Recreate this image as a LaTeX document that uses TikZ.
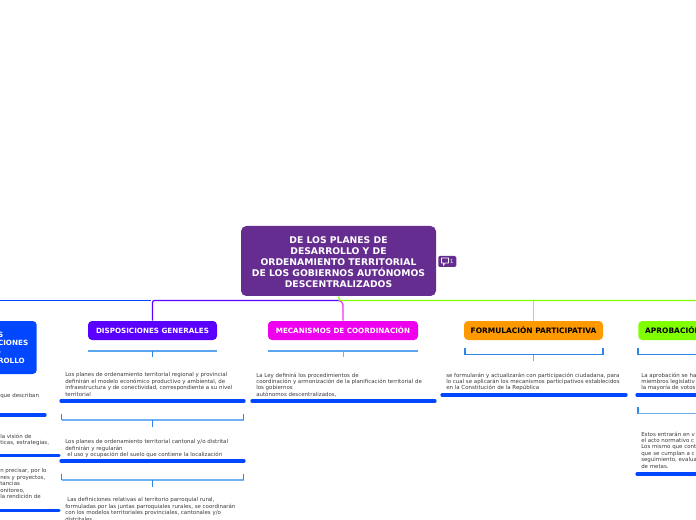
\documentclass[tikz,border=0pt]{standalone}
\usepackage{fontspec}
\setmainfont{DejaVu Sans}
\definecolor{rootc}{HTML}{662D91}
\definecolor{viol}{HTML}{5A00FF}
\definecolor{royal}{HTML}{0047FF}
\definecolor{mag}{HTML}{EE00EE}
\definecolor{orng}{HTML}{FF9900}
\definecolor{lime}{HTML}{80FF00}
\definecolor{brk}{HTML}{2C86E6}
\definecolor{brkl}{HTML}{6FB1F2}
\definecolor{txt}{HTML}{3A3A3A}
\tikzset{
  x=0.75pt,y=-0.75pt,
  boxn/.style={rounded corners=3pt,inner sep=0pt,font=\fontsize{5.38pt}{6.6pt}\selectfont\bfseries,text=white,align=center,minimum height=14.25pt},
  blackn/.style={boxn,text=black,font=\fontsize{5.6pt}{6.6pt}\selectfont\bfseries},
  bodyt/.style={anchor=north west,inner sep=0pt,align=left,text=txt,font=\fontsize{4.1pt}{4.85pt}\selectfont},
  uline/.style={draw=royal,line width=2.4pt,line cap=round},
  stem/.style={line width=0.75pt},
  brack/.style={draw=brkl,line width=0.8pt},
  tip/.style={draw=brk,line width=0.8pt}
}
\begin{document}
\begin{tikzpicture}
\useasboundingbox (0,0) rectangle (696,520);
\clip (0,0) rectangle (696,520);
% root and badge
\node[fill=rootc,rounded corners=4pt,minimum width=146.25pt,minimum height=52.5pt,inner sep=0pt,text=white,align=center,font=\fontsize{6.93pt}{8.25pt}\selectfont\bfseries] (root) at (338.5,261) {\rule{0pt}{6.6pt}DE LOS PLANES DE\\DESARROLLO Y DE\\ORDENAMIENTO TERRITORIAL\\DE LOS GOBIERNOS AUTÓNOMOS\\DESCENTRALIZADOS};
\node[fill=rootc,rounded corners=1pt,minimum width=13.5pt,minimum height=8.25pt,inner sep=0pt,anchor=west,text=white,font=\fontsize{4pt}{5pt}\selectfont] (badge) at (438,261.5) {\hspace*{7pt}1};
\draw[white,line width=0.4pt,line join=round] (441.5,258) -- (448.5,258) -- (448.5,263) -- (445,263) -- (443.5,265.5) -- (443.5,263) -- (441.5,263) -- cycle;
% headers
\node[boxn,fill=viol,minimum width=96.75pt] (disp) at (152.5,330.5) {DISPOSICIONES GENERALES};
\node[boxn,fill=mag,minimum width=112.5pt] (meca) at (343,330.5) {MECANISMOS DE COORDINACIÓN};
\node[blackn,fill=orng,minimum width=104.25pt] (form) at (533.5,330.5) {FORMULACIÓN PARTICIPATIVA};
\node[blackn,fill=lime,anchor=west,minimum width=105pt,text width=99pt,align=left] (apro) at (638,330.5) {\hspace*{2.2pt}APROBACIÓN};
\node[boxn,fill=royal,anchor=east,minimum width=60pt,minimum height=39.75pt,text width=60pt,align=left,font=\fontsize{5.38pt}{6.45pt}\selectfont\bfseries] (left) at (37,347.5) {\hspace*{31pt}S\\\hspace*{31pt}CIONES\\\hspace*{31pt}-\\\hspace*{31pt}ROLLO};
% buses
\coordinate (bl) at (0,300.5);
\coordinate (bm) at (338.5,300.5);
\coordinate (br) at (696,300.5);
\draw[orng!65,line width=1.1pt] (form.north) -- (form.north |- br);
\draw[mag!80,line width=0.9pt,rounded corners=1pt] (meca.north) -- ++(0,-17) -- (340,300.5) -- (bm);
\draw[viol,line width=0.9pt,rounded corners=1.5pt] (bm) -- (bm -| disp.north) -- (disp.north);
\draw[royal,line width=0.9pt] (bm -| disp.north) ++(-2,0) -- (bl);
\draw[lime,line width=0.9pt,rounded corners=1pt] (root.south) ++(0.5,0) |- (br);
% brackets below headers
\coordinate (dl) at (88,351); \coordinate (dr) at (217,351);
\draw[brack,draw=brkl!70!brk] (dl) -- (dr);
\draw[tip,stem] (dl -| disp.north) -- ++(0,6);
\coordinate (ml) at (268,351); \coordinate (mr) at (418,351);
\draw[brack,draw=brkl!70!brk] (ml) -- (mr);
\draw[brack,stem] (ml -| meca.north) -- ++(0,6);
\draw[tip] (465,347.5) -- (465,354.5) -- (603,354.5) -- (603,347.5);
\draw[brkl,line width=1.1pt] (533.5,354.5) -- (533.5,361);
\draw[tip] (638,347.5) -- (638,354.5) -- (696,354.5);
% disposiciones
\node[bodyt] (d1) at (65,372.4) {Los planes de ordenamiento territorial regional y provincial\\definirán el modelo económico productivo y ambiental, de\\infraestructura y de conectividad, correspondiente a su nivel\\territorial};
\coordinate (d1a) at (61,401); \coordinate (d1b) at (244,401);
\draw[uline] (d1a) -- (d1b);
\draw[brack] (61.5,420) -- (243.5,420);
\draw[tip] (61.5,413.5) -- (61.5,420); \draw[tip] (243.5,413.5) -- (243.5,420);
\draw[tip] (152.5,420) -- (152.5,427);
\node[bodyt] (d2) at (65,439.4) {Los planes de ordenamiento territorial cantonal y/o distrital\\definirán y regularán\\\hspace*{1.5pt}el uso y ocupación del suelo que contiene la localización};
\coordinate (d2a) at (61,461); \coordinate (d2b) at (244,461);
\draw[uline] (d2a) -- (d2b);
\draw[brack] (61.5,480) -- (243.5,480);
\draw[tip] (61.5,473.5) -- (61.5,480); \draw[tip] (243.5,473.5) -- (243.5,480);
\draw[tip] (152.5,480) -- (152.5,487);
\node[bodyt] (d3) at (65,497.4) {\hspace*{1.5pt}Las definiciones relativas al territorio parroquial rural,\\formuladas por las juntas parroquiales rurales, se coordinarán\\con los modelos territoriales provinciales, cantonales y/o\\distritales};
% mecanismos
\node[bodyt] (m1) at (256,372.4) {La Ley definirá los procedimientos de\\coordinación y armonización de la planificación territorial de\\los gobiernos\\autónomos descentralizados,};
\coordinate (m1a) at (252,401); \coordinate (m1b) at (435,401);
\draw[uline] (m1a) -- (m1b);
% formulacion
\node[bodyt] (f1) at (446,372.4) {se formularán y actualizarán con participación ciudadana, para\\lo cual se aplicarán los mecanismos participativos establecidos\\en la Constitución de la República};
\coordinate (f1a) at (442,395); \coordinate (f1b) at (626,395);
\draw[uline] (f1a) -- (f1b);
% aprobacion
\node[bodyt] (a1) at (641,372.4) {La aprobación se ha\\miembros legislativ\\la mayoría de votos};
\coordinate (a1a) at (637,395); \coordinate (a1b) at (700,395);
\draw[uline] (a1a) -- (a1b);
\draw[tip] (638,407) -- (638,413.5);
\draw[brack] (638,413.5) -- (696,413.5);
\node[bodyt] (a2) at (641,431.4) {Estos entrarán en v\\el acto normativo c\\Los mismo que cont\\que se cumplan a c\\seguimiento, evalua\\de metas.};
\coordinate (a2a) at (637,474); \coordinate (a2b) at (700,474);
\draw[uline] (a2a) -- (a2b);
% left column
\node[bodyt] (l1) at (0,393.4) {que describan};
\coordinate (l1a) at (-4,415); \coordinate (l1b) at (45,415);
\draw[uline] (l1a) -- (l1b);
\node[bodyt] (l2) at (0,433.4) {la visión de\\ticas, estrategias,};
\coordinate (l2a) at (-4,455.5); \coordinate (l2b) at (59,455.5);
\draw[uline] (l2a) -- (l2b);
\node[bodyt] (l3) at (0,468.4) {n precisar, por lo\\nes y proyectos,\\tancias\\onitoreo,\\la rendición de};
\coordinate (l3a) at (-4,510.5); \coordinate (l3b) at (59,510.5);
\draw[uline] (l3a) -- (l3b);
\end{tikzpicture}
\end{document}
